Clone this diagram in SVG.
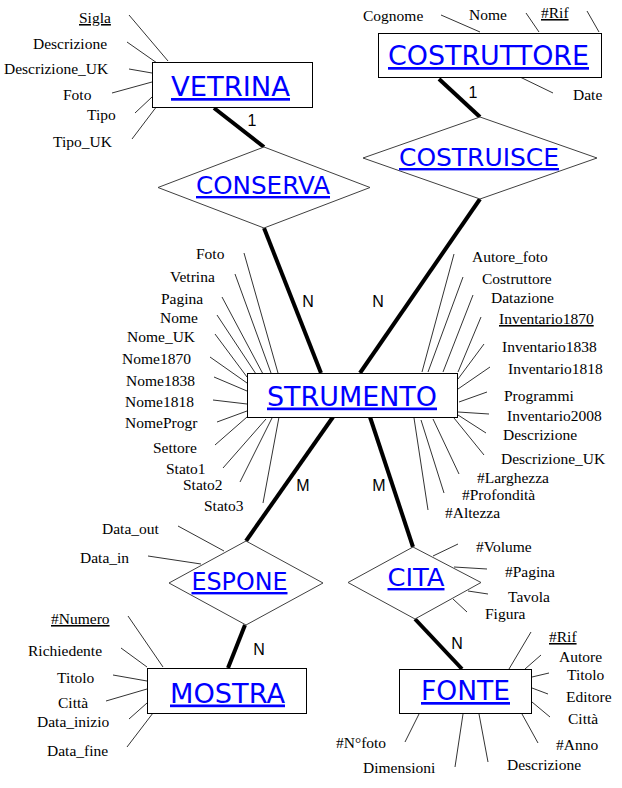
<svg xmlns="http://www.w3.org/2000/svg" width="622" height="788" viewBox="0 0 622 788">
<style>
.ent{fill:#fff;stroke:#000;stroke-width:1}
.rel{fill:#fff;stroke:#404040;stroke-width:1}
.et{font-family:"DejaVu Sans",Verdana,sans-serif;font-size:27px;fill:#0000ff;text-decoration:underline;text-anchor:middle}
.rt{font-family:"DejaVu Sans",Verdana,sans-serif;font-size:24px;fill:#0000ff;text-decoration:underline;text-anchor:middle}
.at{font-family:"Liberation Serif","Times New Roman",serif;font-size:15.5px;fill:#000}
.u{text-decoration:underline}
.card{font-family:"Liberation Sans",Arial,sans-serif;font-size:16px;fill:#000;text-anchor:middle}
.thick{stroke:#000;stroke-width:4;fill:none}
.thin{stroke:#333;stroke-width:1;fill:none}
</style>
<rect width="622" height="788" fill="#fff"/>
<g id="connectors">
<line class="thick" x1="214" y1="108" x2="264" y2="147"/>
<line class="thick" x1="439" y1="79" x2="480" y2="117"/>
<line class="thick" x1="264" y1="228" x2="321" y2="373"/>
<line class="thick" x1="480" y1="199" x2="360" y2="373"/>
<line class="thick" x1="333" y1="417" x2="246" y2="541"/>
<line class="thick" x1="370" y1="417" x2="413" y2="547"/>
<line class="thick" x1="245" y1="625" x2="228" y2="668"/>
<line class="thick" x1="415" y1="619" x2="462" y2="669"/>
<g id="attr-lines">
<line class="thin" x1="129" y1="15" x2="168" y2="61"/>
<line class="thin" x1="127" y1="42" x2="157" y2="63"/>
<line class="thin" x1="129" y1="69" x2="152" y2="73"/>
<line class="thin" x1="112" y1="93" x2="152" y2="82"/>
<line class="thin" x1="135" y1="113" x2="152" y2="97"/>
<line class="thin" x1="132" y1="139" x2="157" y2="106"/>
<line class="thin" x1="441" y1="15" x2="480" y2="32"/>
<line class="thin" x1="526" y1="13" x2="539" y2="32"/>
<line class="thin" x1="587" y1="11" x2="599" y2="32"/>
<line class="thin" x1="520" y1="77" x2="553" y2="93"/>
<line class="thin" x1="244" y1="253" x2="278" y2="373"/>
<line class="thin" x1="235" y1="274" x2="271" y2="373"/>
<line class="thin" x1="222" y1="297" x2="263" y2="374"/>
<line class="thin" x1="217" y1="315" x2="256" y2="374"/>
<line class="thin" x1="215" y1="334" x2="247" y2="377"/>
<line class="thin" x1="210" y1="357" x2="247" y2="383"/>
<line class="thin" x1="214" y1="377" x2="247" y2="391"/>
<line class="thin" x1="213" y1="400" x2="247" y2="404"/>
<line class="thin" x1="217" y1="422" x2="247" y2="411"/>
<line class="thin" x1="215" y1="445" x2="247" y2="417"/>
<line class="thin" x1="223" y1="468" x2="266" y2="419"/>
<line class="thin" x1="240" y1="482" x2="272" y2="418"/>
<line class="thin" x1="263" y1="503" x2="279" y2="417"/>
<line class="thin" x1="454" y1="254" x2="422" y2="372"/>
<line class="thin" x1="463" y1="277" x2="428" y2="372"/>
<line class="thin" x1="473" y1="295" x2="443" y2="372"/>
<line class="thin" x1="481" y1="317" x2="458" y2="372"/>
<line class="thin" x1="484" y1="344" x2="458" y2="379"/>
<line class="thin" x1="490" y1="367" x2="458" y2="389"/>
<line class="thin" x1="487" y1="392" x2="459" y2="402"/>
<line class="thin" x1="489" y1="414" x2="458" y2="412"/>
<line class="thin" x1="486" y1="433" x2="458" y2="415"/>
<line class="thin" x1="484" y1="455" x2="454" y2="418"/>
<line class="thin" x1="459" y1="474" x2="433" y2="419"/>
<line class="thin" x1="444" y1="493" x2="421" y2="420"/>
<line class="thin" x1="428" y1="510" x2="414" y2="418"/>
<line class="thin" x1="178" y1="526" x2="224" y2="551"/>
<line class="thin" x1="148" y1="556" x2="201" y2="564"/>
<line class="thin" x1="458" y1="544" x2="433" y2="556"/>
<line class="thin" x1="487" y1="569" x2="454" y2="567"/>
<line class="thin" x1="488" y1="594" x2="468" y2="591"/>
<line class="thin" x1="467" y1="612" x2="453" y2="599"/>
<line class="thin" x1="128" y1="616" x2="163" y2="667"/>
<line class="thin" x1="121" y1="648" x2="147" y2="667"/>
<line class="thin" x1="113" y1="675" x2="147" y2="681"/>
<line class="thin" x1="106" y1="701" x2="147" y2="689"/>
<line class="thin" x1="129" y1="719" x2="147" y2="703"/>
<line class="thin" x1="127" y1="747" x2="153" y2="713"/>
<line class="thin" x1="531" y1="632" x2="509" y2="669"/>
<line class="thin" x1="541" y1="655" x2="525" y2="669"/>
<line class="thin" x1="549" y1="673" x2="532" y2="677"/>
<line class="thin" x1="548" y1="694" x2="532" y2="688"/>
<line class="thin" x1="550" y1="717" x2="532" y2="702"/>
<line class="thin" x1="538" y1="743" x2="522" y2="714"/>
<line class="thin" x1="488" y1="762" x2="479" y2="714"/>
<line class="thin" x1="455" y1="767" x2="463" y2="714"/>
<line class="thin" x1="405" y1="742" x2="419" y2="714"/>
</g>
<g id="cardinalities">
<text class="card" x="252" y="126">1</text>
<text class="card" x="473" y="98">1</text>
<text class="card" x="308" y="307">N</text>
<text class="card" x="378" y="307">N</text>
<text class="card" x="303" y="491">M</text>
<text class="card" x="379" y="491">M</text>
<text class="card" x="259" y="655">N</text>
<text class="card" x="457" y="649">N</text>
</g>
</g>
<g id="VETRINA">
<rect class="ent" x="152.5" y="62.5" width="160" height="45"/>
<text class="et" x="230.5" y="96" textLength="119" lengthAdjust="spacingAndGlyphs">VETRINA</text>
<text class="at u" x="79" y="23">Sigla</text>
<text class="at" x="33" y="49">Descrizione</text>
<text class="at" x="4" y="74">Descrizione_UK</text>
<text class="at" x="63" y="100">Foto</text>
<text class="at" x="87" y="120">Tipo</text>
<text class="at" x="53" y="147">Tipo_UK</text>
</g>
<g id="COSTRUTTORE">
<rect class="ent" x="378.5" y="33.5" width="223" height="44"/>
<text class="et" x="488.5" y="65" textLength="201" lengthAdjust="spacingAndGlyphs">COSTRUTTORE</text>
<text class="at" x="363" y="21">Cognome</text>
<text class="at" x="469" y="20">Nome</text>
<text class="at u" x="541" y="18">#Rif</text>
<text class="at" x="573" y="100">Date</text>
</g>
<g id="CONSERVA">
<polygon class="rel" points="158,187.5 264,147 370,187.5 264,228"/>
<text class="rt" x="263" y="194" textLength="134" lengthAdjust="spacingAndGlyphs">CONSERVA</text>
</g>
<g id="COSTRUISCE">
<polygon class="rel" points="363,158 480,117 597,158 480,199"/>
<text class="rt" x="479" y="166" textLength="160" lengthAdjust="spacingAndGlyphs">COSTRUISCE</text>
</g>
<g id="STRUMENTO">
<rect class="ent" x="247.5" y="373.5" width="210" height="44"/>
<text class="et" x="352" y="405.5" textLength="170" lengthAdjust="spacingAndGlyphs">STRUMENTO</text>
<text class="at" x="196" y="259">Foto</text>
<text class="at" x="170" y="282">Vetrina</text>
<text class="at" x="161" y="304">Pagina</text>
<text class="at" x="160" y="323">Nome</text>
<text class="at" x="127" y="342">Nome_UK</text>
<text class="at" x="122" y="364">Nome1870</text>
<text class="at" x="126" y="386">Nome1838</text>
<text class="at" x="125" y="407">Nome1818</text>
<text class="at" x="125" y="428">NomeProgr</text>
<text class="at" x="153" y="453">Settore</text>
<text class="at" x="166" y="474">Stato1</text>
<text class="at" x="183" y="490">Stato2</text>
<text class="at" x="204" y="511">Stato3</text>
<text class="at" x="472" y="262">Autore_foto</text>
<text class="at" x="482" y="284">Costruttore</text>
<text class="at" x="491" y="303">Datazione</text>
<text class="at u" x="499" y="324">Inventario1870</text>
<text class="at" x="502" y="352">Inventario1838</text>
<text class="at" x="508" y="374">Inventario1818</text>
<text class="at" x="504" y="401">Programmi</text>
<text class="at" x="507" y="421">Inventario2008</text>
<text class="at" x="503" y="440">Descrizione</text>
<text class="at" x="501" y="464">Descrizione_UK</text>
<text class="at" x="477" y="483">#Larghezza</text>
<text class="at" x="462" y="500">#Profondità</text>
<text class="at" x="445" y="518">#Altezza</text>
</g>
<g id="ESPONE">
<polygon class="rel" points="169,583 246,541 323,583 246,625"/>
<text class="rt" x="239.5" y="590" textLength="96" lengthAdjust="spacingAndGlyphs">ESPONE</text>
<text class="at" x="102" y="534">Data_out</text>
<text class="at" x="80" y="563">Data_in</text>
</g>
<g id="CITA">
<polygon class="rel" points="348,582.5 413,547 481,582.5 415,619"/>
<text class="rt" x="416" y="586" textLength="57" lengthAdjust="spacingAndGlyphs">CITA</text>
<text class="at" x="476" y="552">#Volume</text>
<text class="at" x="505" y="577">#Pagina</text>
<text class="at" x="508" y="602">Tavola</text>
<text class="at" x="485" y="619">Figura</text>
</g>
<g id="MOSTRA">
<rect class="ent" x="147.5" y="668.5" width="159" height="45"/>
<text class="et" x="227.5" y="702.5" textLength="115" lengthAdjust="spacingAndGlyphs">MOSTRA</text>
<text class="at u" x="51" y="624">#Numero</text>
<text class="at" x="28" y="656">Richiedente</text>
<text class="at" x="57" y="683">Titolo</text>
<text class="at" x="58" y="708">Città</text>
<text class="at" x="37" y="727">Data_inizio</text>
<text class="at" x="47" y="756">Data_fine</text>
</g>
<g id="FONTE">
<rect class="ent" x="399.5" y="669.5" width="132" height="44"/>
<text class="et" x="465.5" y="700" textLength="89" lengthAdjust="spacingAndGlyphs">FONTE</text>
<text class="at u" x="549" y="642">#Rif</text>
<text class="at" x="559" y="662">Autore</text>
<text class="at" x="567" y="680">Titolo</text>
<text class="at" x="566" y="702">Editore</text>
<text class="at" x="568" y="724">Città</text>
<text class="at" x="556" y="750">#Anno</text>
<text class="at" x="507" y="770">Descrizione</text>
<text class="at" x="363" y="773">Dimensioni</text>
<text class="at" x="336" y="748">#N°foto</text>
</g>
</svg>
